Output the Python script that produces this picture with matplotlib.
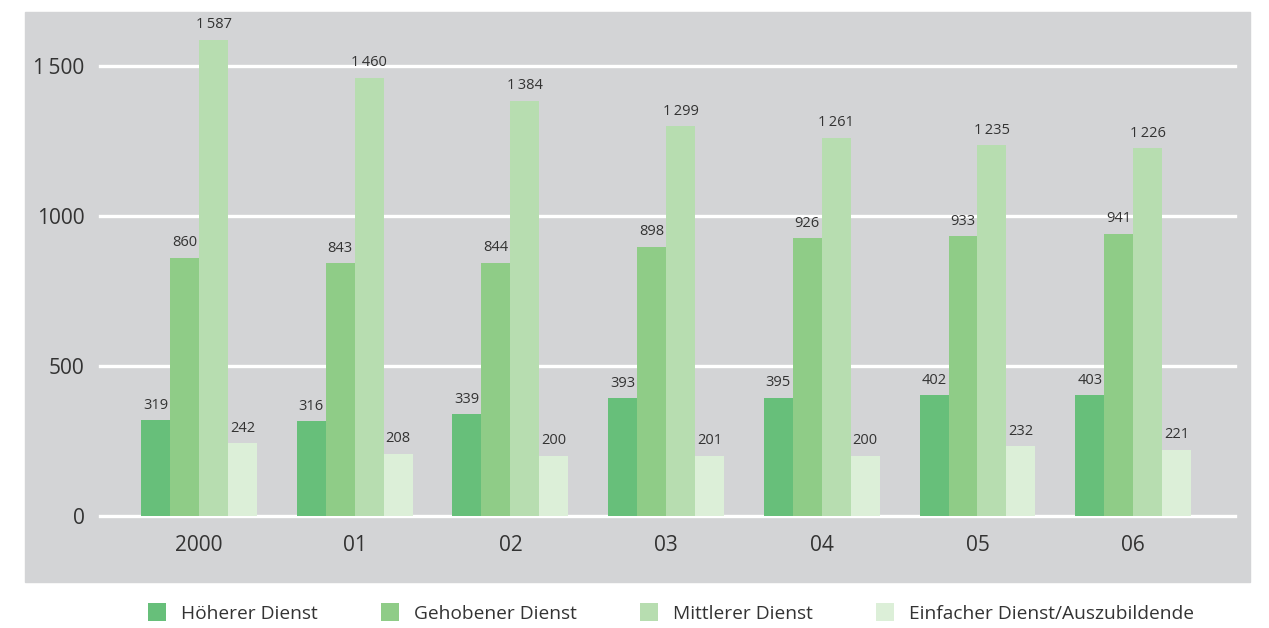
import matplotlib
matplotlib.use("Agg")
import matplotlib.pyplot as plt
import numpy as np
from matplotlib.patches import Rectangle

plt.rcParams["font.family"] = ["Open Sans", "DejaVu Sans"]

years = ["2000", "01", "02", "03", "04", "05", "06"]
hoeherer = [319, 316, 339, 393, 395, 402, 403]
gehobener = [860, 843, 844, 898, 926, 933, 941]
mittlerer = [1587, 1460, 1384, 1299, 1261, 1235, 1226]
einfacher = [242, 208, 200, 201, 200, 232, 221]

SERIES = [("Höherer Dienst", hoeherer, "#67bf7a"),
          ("Gehobener Dienst", gehobener, "#8fcc87"),
          ("Mittlerer Dienst", mittlerer, "#b7ddb0"),
          ("Einfacher Dienst/Auszubildende", einfacher, "#dcefd8")]
BG = "#d3d4d6"
TXT = "#333333"


def fmt(v):
    s = f"{v:d}"
    return s[:-3] + "\u2009" + s[-3:] if v >= 1000 else s


fig = plt.figure(figsize=(12.69, 6.28), dpi=100)
W, H = 1269, 628
# grey panel behind the plot area
fig.patches.append(Rectangle((25 / W, 1 - 582 / H), 1225 / W, 570 / H,
                             transform=fig.transFigure, color=BG, zorder=-5))
ax = fig.add_axes([100 / W, 1 - 516 / H, 1135 / W, 504 / H])
ax.set_facecolor("none")

x = np.arange(len(years))
w = 0.186
for i, (name, vals, col) in enumerate(SERIES):
    pos = x + (i - 1.5) * w
    ax.bar(pos, vals, w, color=col, label=name, zorder=3, linewidth=0)
    for p, v in zip(pos, vals):
        ax.text(p, v + 25, fmt(v), ha="center", va="bottom", fontsize=10.5, color=TXT, zorder=4)

for yv in [0, 500, 1000, 1500]:
    ax.axhline(yv, color="white", lw=2.4, zorder=2, clip_on=False)

ax.set_xlim(-0.636, 6.654)
ax.set_ylim(0, 1680)
ax.set_yticks([0, 500, 1000, 1500])
ax.set_yticklabels(["0", "500", "1000", "1\u2009500"], fontsize=15, color=TXT)
ax.tick_params(axis="y", length=0, pad=11)
for lab in ax.get_yticklabels():
    lab.set_va("center_baseline")
ax.set_xticks(x)
ax.set_xticklabels(years, fontsize=15, color=TXT)
ax.tick_params(axis="x", length=0, pad=14)
for s in ax.spines.values():
    s.set_visible(False)

fig.legend(loc="center", bbox_to_anchor=(0.529, 1 - 613 / H), ncol=4, frameon=False,
           fontsize=13.8, handlelength=0.94, handleheight=1.0, handletextpad=0.78,
           columnspacing=3.3, labelcolor=TXT)

fig.savefig("out.png", dpi=100)
